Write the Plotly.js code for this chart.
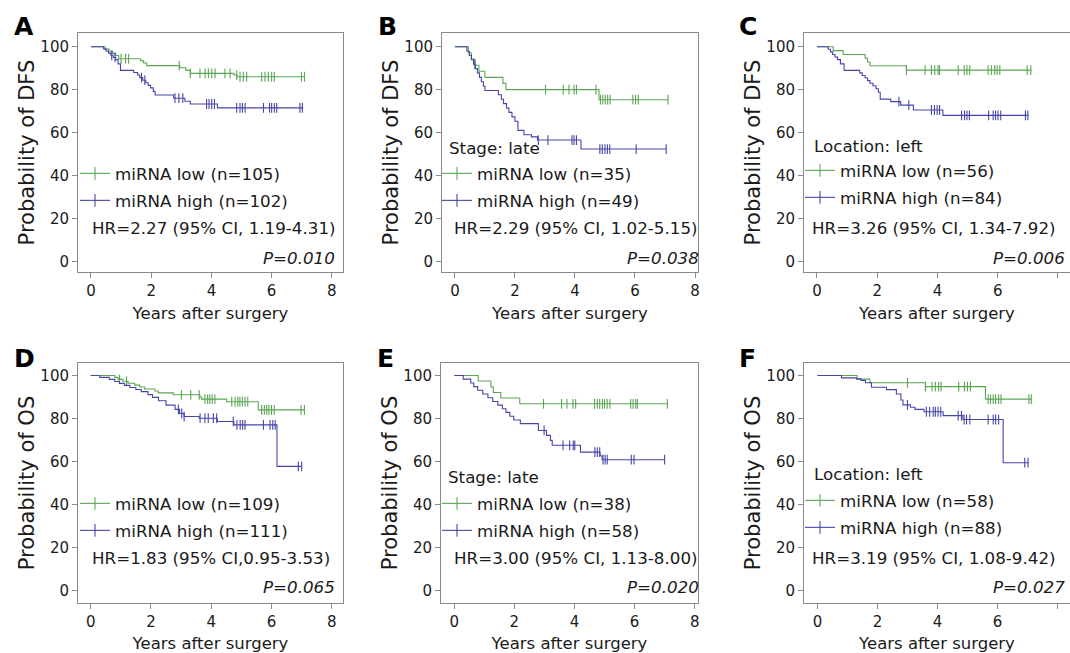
<!DOCTYPE html>
<html><head><meta charset="utf-8">
<script src="https://cdn.plot.ly/plotly-3.0.1.min.js"></script>
<style>html,body{margin:0;padding:0;background:#fff}#chart{width:1070px;height:653px}</style>
</head><body><div id="chart"></div>
<script>
// ---------- DATA ----------
const panelLetters = ['A','B','C','D','E','F'];
const yTitles = ['Probability of DFS','Probability of DFS','Probability of DFS','Probability of OS','Probability of OS','Probability of OS'];
const xTitle = 'Years after surgery';
const subgroupLabels = ['', 'Stage: late', 'Location: left', '', 'Stage: late', 'Location: left'];
const lowLabels = ['miRNA low (n=105)','miRNA low (n=35)','miRNA low (n=56)','miRNA low (n=109)','miRNA low (n=38)','miRNA low (n=58)'];
const highLabels = ['miRNA high (n=102)','miRNA high (n=49)','miRNA high (n=84)','miRNA high (n=111)','miRNA high (n=58)','miRNA high (n=88)'];
const hrTexts = ['HR=2.27 (95% CI, 1.19-4.31)','HR=2.29 (95% CI, 1.02-5.15)','HR=3.26 (95% CI, 1.34-7.92)','HR=1.83 (95% CI,0.95-3.53)','HR=3.00 (95% CI, 1.13-8.00)','HR=3.19 (95% CI, 1.08-9.42)'];
const pTexts = ['P=0.010','P=0.038','P=0.006','P=0.065','P=0.020','P=0.027'];
const xTickVals = [0,2,4,6,8];
const yTickVals = [0,20,40,60,80,100];

// Panel A (DFS, all)
const A_low_t  = [0,0.47,0.6,0.72,0.82,0.92,1.65,1.75,1.85,2.95,3.15,3.3,4.75,4.85,7.1];
const A_low_s  = [100,98.9,97.9,96.9,95.9,94.4,93.4,92.4,91.2,90.2,89.0,87.6,86.8,86.0,86.0];
const A_low_c  = [1.0,1.15,1.25,2.93,3.3,3.62,3.79,3.9,4.01,4.12,4.45,4.62,4.84,4.95,5.06,5.17,5.67,5.78,5.89,6.0,6.09,6.99,7.09];
const A_high_t = [0,0.42,0.5,0.58,0.66,0.74,0.82,0.9,0.98,1.42,1.55,1.62,1.72,1.82,1.9,1.98,2.07,2.13,2.75,3.12,3.3,4.2,7.05];
const A_high_s = [100,99,98,97,96,95,94,92,89,88,86.8,85.6,84.4,83.2,82,80.8,79.2,77.5,76,74.6,73.3,71.5,71.5];
const A_high_c = [0.69,0.8,1.68,1.79,2.79,2.92,3.05,3.84,3.92,4.01,4.1,4.84,4.95,5.03,5.12,5.73,5.93,6.0,6.09,6.17,6.94,7.02];
// Panel B (DFS, stage late)
const B_low_t  = [0,0.45,0.55,0.65,0.8,1.0,1.6,1.7,4.8,7.1];
const B_low_s  = [100,97.1,94.3,91.4,88.6,85.7,82.9,80.0,75.3,75.3];
const B_low_c  = [3.02,3.61,3.8,3.97,4.05,4.7,4.85,4.93,5.01,5.09,5.17,5.93,6.02,6.11,7.1];
const B_high_t = [0,0.4,0.48,0.55,0.62,0.68,0.75,0.82,0.88,0.95,1.0,1.45,1.55,1.62,1.72,1.8,1.9,2.0,2.1,2.3,2.55,2.75,4.2,7.04];
const B_high_s = [100,97.9,95.9,93.9,91.8,89.8,87.8,85.7,83.7,81.6,79.6,77.6,75.5,73.5,71.4,69.4,67.3,65.3,61.0,59.0,58.0,56.5,52.3,52.3];
const B_high_c = [0.67,2.78,3.1,3.9,3.97,4.05,4.83,4.91,5.0,5.08,5.16,6.04,7.04];
// Panel C (DFS, location left)
const C_low_t  = [0,0.54,0.87,1.6,1.68,1.76,2.97,7.12];
const C_low_s  = [100,98.2,96.4,94.6,92.9,91.1,89.1,89.1];
const C_low_c  = [2.97,3.59,3.8,3.91,4.02,4.07,4.69,4.89,4.98,5.07,5.68,5.79,5.9,5.98,6.07,6.98,7.1];
const C_high_t = [0,0.37,0.45,0.52,0.6,0.68,0.78,0.9,1.42,1.5,1.6,1.68,1.76,1.86,1.96,2.04,2.1,2.45,2.78,3.2,4.18,7.02];
const C_high_s = [100,98.8,97.6,96.4,95.2,94,92,89,87.8,86.6,85.4,84.2,83,81.8,80.4,78.8,75.6,74.4,72.8,70.5,68,68];
const C_high_c = [2.72,3.05,3.8,3.9,3.99,4.07,4.8,4.9,4.98,5.06,5.7,5.85,5.93,6.01,6.1,6.92,7.0];
// Panel D (OS, all)
const D_low_t  = [0,0.8,0.91,1.07,1.24,1.46,1.63,1.79,2.13,2.24,2.74,3.62,3.68,4.51,5.56,7.1];
const D_low_s  = [100,99.1,98.2,97.3,96.4,95.5,94.6,93.7,92.8,91.9,91.0,90.0,89.0,87.8,84.0,84.0];
const D_low_c  = [0.96,1.19,3.01,3.32,3.6,3.79,3.88,3.95,4.03,4.12,4.68,4.79,4.88,4.95,5.03,5.12,5.21,5.67,5.76,5.84,5.91,6.0,6.09,6.98,7.09];
const D_high_t = [0,0.3,0.62,0.8,0.95,1.12,1.3,1.5,1.68,1.9,2.05,2.25,2.5,2.8,2.95,3.1,3.6,4.2,4.75,6.18,7.0];
const D_high_s = [100,99.1,98.2,97.2,96.3,95.4,94.4,93.5,92.5,91.1,89.8,88.2,86.2,84.2,82.3,80.9,80.1,78.6,77.0,57.7,57.7];
const D_high_c = [2.91,3.02,3.1,3.63,3.79,3.9,4.07,4.18,4.73,4.85,4.96,5.04,5.12,5.73,5.95,6.04,6.12,6.89,7.0];
// Panel E (OS, stage late)
const E_low_t  = [0,0.8,1.22,1.3,1.55,2.18,7.1];
const E_low_s  = [100,97.4,94.7,92.1,89.5,86.8,86.8];
const E_low_c  = [2.97,3.57,3.75,3.95,4.04,4.67,4.76,4.84,4.93,5.0,5.09,5.18,5.87,5.95,6.04,6.09,7.09];
const E_high_t = [0,0.3,0.55,0.65,0.78,0.95,1.12,1.28,1.45,1.6,1.72,1.85,1.98,2.2,2.8,3.07,3.2,3.26,4.2,4.85,4.92,7.0];
const E_high_s = [100,98.3,96.5,94.8,93.1,91.4,89.6,87.9,86.2,84.5,82.8,81.0,79.3,77.6,74.4,72.1,69.8,67.5,64.3,62.6,60.8,60.8];
const E_high_c = [2.99,3.62,3.84,3.96,4.01,4.68,4.76,4.84,4.95,5.02,5.09,5.89,5.98,7.0];
// Panel F (OS, location left)
const F_low_t  = [0,1.32,1.75,3.6,5.6,7.15];
const F_low_s  = [100,98.3,96.6,94.8,89.0,89.0];
const F_low_c  = [3.0,3.6,3.82,3.93,4.04,4.12,4.71,4.9,5.0,5.1,5.69,5.77,5.86,5.94,6.04,6.12,7.05,7.13];
const F_high_t = [0,0.8,1.3,1.45,1.6,1.8,2.3,2.63,2.78,2.85,3.1,3.25,3.55,4.19,4.85,6.19,7.05];
const F_high_s = [100,98.9,98.4,97.7,96.6,94.5,93.4,91.4,88.6,86.3,85.2,84.2,83.1,81.3,79.5,59.4,59.4];
const F_high_c = [3.0,3.63,3.74,3.86,3.93,4.02,4.11,4.69,4.8,4.89,4.97,5.08,5.69,5.86,5.94,6.04,6.91,7.02];

const curves = [
  [[A_low_t,A_low_s,A_low_c],[A_high_t,A_high_s,A_high_c]],
  [[B_low_t,B_low_s,B_low_c],[B_high_t,B_high_s,B_high_c]],
  [[C_low_t,C_low_s,C_low_c],[C_high_t,C_high_s,C_high_c]],
  [[D_low_t,D_low_s,D_low_c],[D_high_t,D_high_s,D_high_c]],
  [[E_low_t,E_low_s,E_low_c],[E_high_t,E_high_s,E_high_c]],
  [[F_low_t,F_low_s,F_low_c],[F_high_t,F_high_s,F_high_c]]
];

// ---------- LAYOUT / STYLE ----------
const W = 1070, H = 653;
const GREEN = '#5ba653', BLUE = '#4646aa';
const FONT = 'DejaVu Sans, Arial, sans-serif';
const TXT = '#1a1a1a', AXC = '#8a8a8a';
const px = x => x / W, py = y => 1 - y / H;

// plot boxes in pixels: [left, right, top, bottom]
const boxes = [[78,343,33,272],[442,698,33,272],[804,1070,33,272],[78,343,363,603],[441,698,363,603],[804,1070,363,603]];
const xRanges = [[-0.43,8.37],[-0.43,8.1],[-0.43,8.4],[-0.42,8.37],[-0.44,8.11],[-0.45,8.42]];
const yRanges = [[-5,106.4],[-5,106.4],[-5,106.4],[-5.9,105.8],[-5.9,105.8],[-5.9,105.8]];
// text anchors (pixels)
const legendX = [75,437,800,75,437,800];
const legendRows = [[175,202],[175,202],[172,199],[505,532],[505,532],[502,529]];
const subPos = [null,[447,148],[812,146],null,[446,477],[812,474]];
const hrPos = [[90,228],[452,228],[810,228],[90,558],[452,558],[810,558]];
const pPos = [[337,258],[701,258],[1067,258],[337,587],[701,587],[1067,587]];
const letterPos = [[12,27],[376,27],[737,27],[12,358],[375,358],[737,358]];
const LEG_OFF = 19; // legend top -> row centre (px)

function stepAt(ts, ss, c) { let v = ss[0]; for (let i = 0; i < ts.length; i++) if (ts[i] <= c) v = ss[i]; return v; }

const traces = [], annotations = [];
const layout = {
  width: W, height: H, margin: {l:0, r:0, t:0, b:0},
  paper_bgcolor: '#fff', plot_bgcolor: '#fff', showlegend: true,
  font: {family: FONT, color: TXT}, annotations: annotations
};

let legCount = 0;
for (let p = 0; p < 6; p++) {
  const k = p === 0 ? '' : String(p + 1);
  const xa = 'x' + k, ya = 'y' + k;
  const [l, r, t, b] = boxes[p];
  const cut = (p === 2 || p === 5);
  layout['xaxis' + k] = {
    domain: [px(l), px(r)], range: xRanges[p], anchor: ya,
    tickvals: xTickVals, ticktext: xTickVals.map(v => (cut && v === 8) ? '' : String(v)),
    ticks: 'outside', ticklen: 5, tickcolor: AXC, tickwidth: 1,
    showline: true, linecolor: AXC, linewidth: 1, mirror: true,
    showgrid: false, zeroline: false,
    tickfont: {size: 15, color: TXT, family: FONT},
    title: {text: xTitle, font: {size: 16.5, color: TXT, family: FONT}, standoff: 8}
  };
  layout['yaxis' + k] = {
    domain: [py(b), py(t)], range: yRanges[p], anchor: xa,
    tickvals: yTickVals, ticks: 'outside', ticklen: 5, tickcolor: AXC, tickwidth: 1,
    showline: true, linecolor: AXC, linewidth: 1, mirror: !cut,
    showgrid: false, zeroline: false,
    tickfont: {size: 15, color: TXT, family: FONT},
    title: {text: yTitles[p], font: {size: 21, color: TXT, family: FONT}, standoff: 0}
  };

  const groups = curves[p];
  const cols = [GREEN, BLUE];
  const names = [lowLabels[p], highLabels[p]];
  groups.forEach((g, gi) => {
    const [ts, ss, cs] = g;
    traces.push({
      type: 'scatter', mode: 'lines', x: ts, y: ss, xaxis: xa, yaxis: ya,
      line: {shape: 'hv', color: cols[gi], width: 1.1}, showlegend: false, hoverinfo: 'skip'
    });
    traces.push({
      type: 'scatter', mode: 'markers', x: cs, y: cs.map(c => stepAt(ts, ss, c)), xaxis: xa, yaxis: ya,
      marker: {symbol: 'line-ns-open', size: 7, color: cols[gi], line: {color: cols[gi], width: 1.1}},
      showlegend: false, hoverinfo: 'skip'
    });
    // one legend per row, so each row can be placed exactly
    legCount++;
    const lg = legCount === 1 ? 'legend' : 'legend' + legCount;
    layout[lg] = {
      x: px(legendX[p]), y: py(legendRows[p][gi] - LEG_OFF), xanchor: 'left', yanchor: 'top',
      bgcolor: 'rgba(0,0,0,0)', borderwidth: 0, itemwidth: 30,
      font: {size: 16.7, color: TXT, family: FONT}
    };
    traces.push({
      type: 'scatter', mode: 'lines+markers', x: [null], y: [null], xaxis: xa, yaxis: ya,
      name: names[gi], legend: lg, showlegend: true,
      line: {color: cols[gi], width: 1.1},
      marker: {symbol: 'line-ns-open', size: 9, color: cols[gi], line: {color: cols[gi], width: 1.1}}
    });
  });

  annotations.push({xref:'paper', yref:'paper', x: px(letterPos[p][0]), y: py(letterPos[p][1]),
    xanchor:'left', yanchor:'middle', showarrow:false, text: '<b>' + panelLetters[p] + '</b>',
    font: {size: 25, color: '#000', family: FONT}});
  if (subgroupLabels[p]) annotations.push({xref:'paper', yref:'paper', x: px(subPos[p][0]), y: py(subPos[p][1]),
    xanchor:'left', yanchor:'middle', showarrow:false, text: subgroupLabels[p],
    font: {size: 16.7, color: TXT, family: FONT}});
  annotations.push({xref:'paper', yref:'paper', x: px(hrPos[p][0]), y: py(hrPos[p][1]),
    xanchor:'left', yanchor:'middle', showarrow:false, text: hrTexts[p],
    font: {size: 16.7, color: TXT, family: FONT}});
  annotations.push({xref:'paper', yref:'paper', x: px(pPos[p][0]), y: py(pPos[p][1]),
    xanchor:'right', yanchor:'middle', showarrow:false, text: '<i>' + pTexts[p] + '</i>',
    font: {size: 16.7, color: TXT, family: FONT}});
}

Plotly.newPlot('chart', traces, layout, {displayModeBar: false, staticPlot: true});
</script>
</body></html>
